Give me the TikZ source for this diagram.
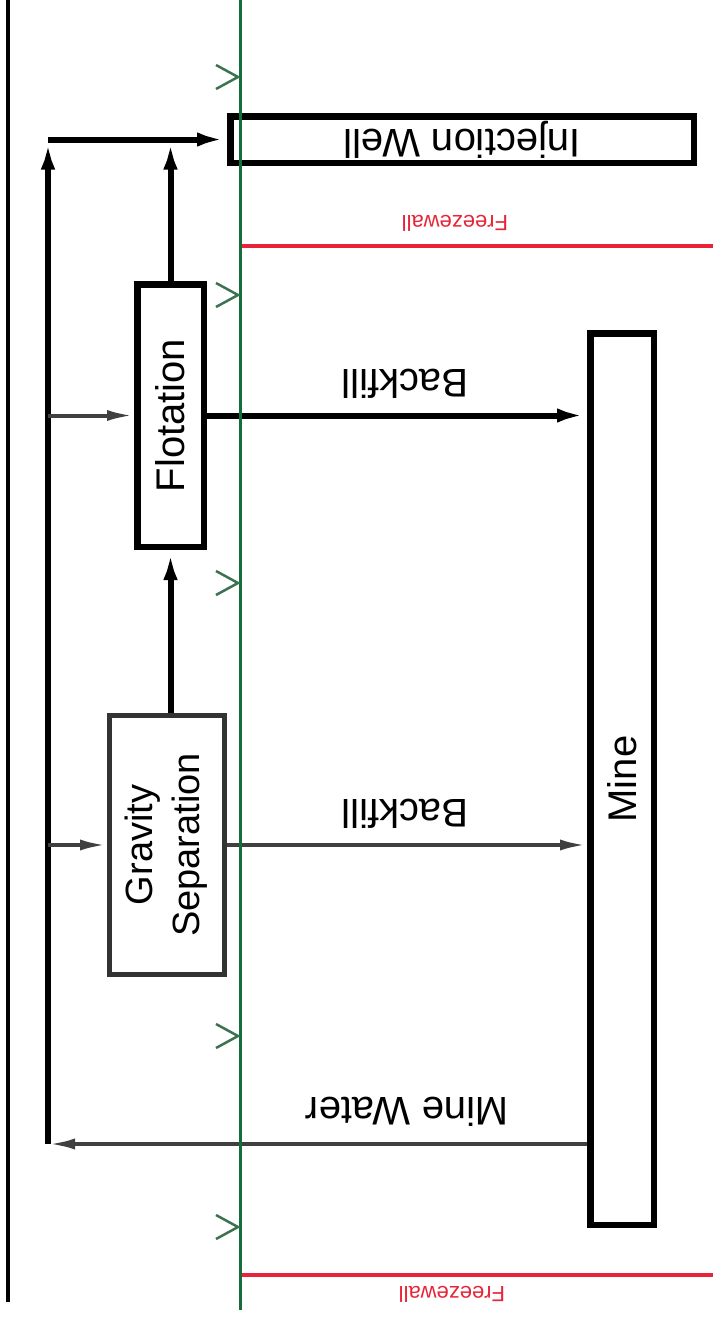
\documentclass[tikz,border=0pt]{standalone}
\usepackage{fontspec}
\setmainfont{Liberation Sans}
\usetikzlibrary{arrows.meta, calc, positioning}
\definecolor{FreezeRed}{RGB}{232, 36, 56}
\definecolor{WallGreen}{RGB}{22, 108, 58}

\begin{document}
\begin{tikzpicture}[x=1pt, y=-1pt,
    box/.style={rectangle, draw, line width=6.5pt, inner sep=0pt,
      font=\fontsize{40}{48}\selectfont},
    arrow/.style={-{Latex[length=30pt, width=14pt]}, line width=6pt},
    feed/.style={-{Latex[length=27pt, width=11pt]}, line width=4pt, black!75},
    lbl/.style={rotate=180, font=\fontsize{40}{48}\selectfont},
    wall/.style={FreezeRed, line width=4.5pt},
    walllbl/.style={rotate=180, FreezeRed, font=\fontsize{22}{26}\selectfont},
    chev/.style={WallGreen!65!gray, line width=2.5pt}
  ]
    \useasboundingbox (0,0) rectangle (713,1320);
    \node[box, minimum width=463.5pt, minimum height=46.5pt] (inj) at (462,139.5) {\rotatebox{180}{Injection Well}};
    \node[box, minimum width=66.5pt, minimum height=262.5pt] (flot) at (170.5,415.5) {\rotatebox{90}{Flotation}};
    \node[box, line width=5pt, draw=black!80, minimum width=115pt, minimum height=259pt,
      font=\fontsize{38}{47}\selectfont] (gs) at (167,845)
      {\rotatebox{90}{\begin{tabular}{@{}c@{}}Gravity\\Separation\end{tabular}}};
    \node[box, minimum width=63.5pt, minimum height=891.5pt] (mine) at (622,779) {\rotatebox{90}{Mine}};
    \node[lbl] (bf1) at (405,384) {Backfill};
    \node[lbl] (bf2) at (405,814) {Backfill};
    \node[lbl] (mwl) at (407,1112) {Mine Water};
    \node[walllbl] (fw1) at (455,223) {Freezewall};
    \node[walllbl] (fw2) at (452,1294) {Freezewall};
    \coordinate (mw) at (48,1144);
    \coordinate (top) at (48,139.5);
    % return water and feed lines
    \draw[arrow] (mw) -- (top);
    \draw[arrow] (top) -- (inj.west);
    \draw[arrow] (flot.north) -- (flot.north |- top);
    \draw[arrow] (flot.south |- gs.north) -- (flot.south);
    \draw[arrow] (flot.east) -- (flot.east -| mine.west);
    \draw[feed] (mw |- flot.west) -- (flot.west);
    \draw[feed] (mw |- gs.west) -- (gs.west);
    \draw[feed] (gs.east) -- (gs.east -| mine.west);
    \draw[feed] (mine.west |- mw) -- (mw);
    % freezewalls and boundary
    \draw[wall] (240,246) -- (713,246);
    \draw[wall] (240,1275) -- (713,1275);
    \draw[line width=3.5pt] (8,0) -- (8,1302);
    \draw[WallGreen, line width=3pt] (240,0) -- (240,1310);
    \draw[chev] (216,65) -- (238,77) -- (216,89);
    \draw[chev] (216,283) -- (238,295) -- (216,307);
    \draw[chev] (216,571) -- (238,583) -- (216,595);
    \draw[chev] (216,1024) -- (238,1036) -- (216,1048);
    \draw[chev] (216,1215) -- (238,1227) -- (216,1239);
\end{tikzpicture}
\end{document}
